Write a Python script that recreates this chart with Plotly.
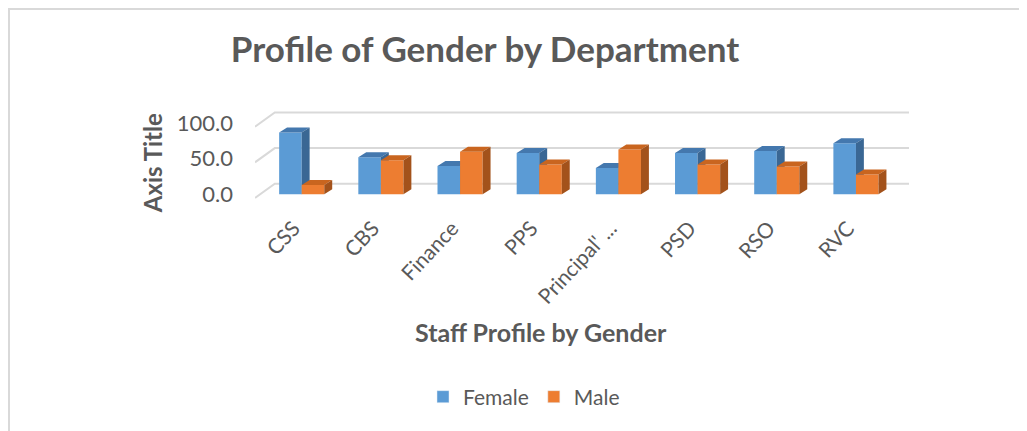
import plotly.graph_objects as go

departments = ["CSS", "CBS", "Finance", "PPS", "Principal' ...", "PSD", "RSO", "RVC"]
female = [87, 52, 40, 58, 37, 58, 61, 72]
male = [13, 48, 60, 42, 63, 42, 39, 28]
y_ticks = [0, 50, 100]

FONT = "Lato"
GREY = "#595959"

# pseudo-3D geometry (data units)
HALF = 0.285      # front width of one bar
DX, DY = 0.10, 7  # bar depth offset
WALL_DX, WALL_DY = 0.25, 15
X_RANGE = [-0.59, 7.67]
Y_RANGE = [-8, 120]

# the page body adds an 8px margin, so the figure is drawn 8px smaller
# and every target pixel position is shifted by OFF
OFF = 8
W, H = 1027 - OFF, 431 - OFF
PL, PR, PT, PB = 255 - OFF, 909 - OFF, 108.8 - OFF, 199.7 - OFF


def px(x):
    return (x - OFF - PL) / (PR - PL)


def py(y):
    return (PB - (y - OFF)) / (PB - PT)


def faces(vals, x_from):
    front_x, front_y, top_x, top_y, side_x, side_y = [], [], [], [], [], []
    for i, v in enumerate(vals):
        x0 = i + x_from
        x1 = x0 + HALF
        front_x += [x0, x1, x1, x0, x0, None]
        front_y += [0, 0, v, v, 0, None]
        top_x += [x0, x0 + DX, x1 + DX, x1, x0, None]
        top_y += [v, v + DY, v + DY, v, v, None]
        side_x += [x1, x1 + DX, x1 + DX, x1, x1, None]
        side_y += [0, DY, v + DY, v, 0, None]
    return (front_x, front_y), (top_x, top_y), (side_x, side_y)


fig = go.Figure()

# back wall gridlines
gx, gy = [], []
for t in y_ticks:
    gx += [X_RANGE[0], X_RANGE[0] + WALL_DX, X_RANGE[1], None]
    gy += [t - 5, t + WALL_DY, t + WALL_DY, None]
fig.add_trace(go.Scatter(x=gx, y=gy, mode="lines", line=dict(color="#D9D9D9", width=2),
                         hoverinfo="skip", showlegend=False))

series = [
    ("Female", female, -HALF, ["#5B9BD5", "#4478AE", "#3A6794"]),
    ("Male", male, 0.0, ["#ED7D31", "#C9651F", "#A3521B"]),
]

for name, vals, x_from, cols in series:
    front, top, side = faces(vals, x_from)
    for (xs, ys), c in zip([front, top, side], cols):
        fig.add_trace(go.Scatter(x=xs, y=ys, mode="lines", fill="toself", fillcolor=c,
                                 line=dict(width=0, color=c), hoverinfo="skip", showlegend=False))

# legend entries
for name, vals, x_from, cols in series:
    fig.add_trace(go.Bar(x=[None], y=[None], name=name, marker_color=cols[0]))

fig.update_layout(
    width=W, height=H,
    plot_bgcolor="white", paper_bgcolor="white",
    margin=dict(l=PL, r=W - PR, t=PT, b=H - PB, autoexpand=False),
    font=dict(family=FONT, color=GREY),
    title=dict(text="<b>Profile of Gender by Department</b>", font=dict(size=35, color=GREY),
               x=(485 - OFF) / W, xanchor="center", y=1 - (50 - OFF) / H, yanchor="middle",
               xref="container", yref="container"),
    xaxis=dict(range=X_RANGE, tickmode="array", tickvals=list(range(len(departments))),
               ticktext=departments, tickangle=-47, showgrid=False, zeroline=False,
               showline=False, tickfont=dict(size=21, color=GREY), ticklabelshift=-8,
               ticklabelstandoff=11),
    yaxis=dict(range=Y_RANGE, tickmode="array", tickvals=y_ticks,
               ticktext=[f"{t:.1f}" for t in y_ticks], showgrid=False, zeroline=False,
               showline=False, tickfont=dict(size=22, color=GREY), ticklabelstandoff=21),
    legend=dict(orientation="h", x=(524 - OFF) / W, xanchor="center", y=1 - (397 - OFF) / H,
                yanchor="middle", xref="container", yref="container",
                font=dict(size=21, color=GREY)),
    annotations=[
        dict(text="<b>Axis Title</b>", x=px(152), y=py(163), xref="paper", yref="paper",
             xanchor="center", yanchor="middle",
             textangle=-90, showarrow=False, font=dict(size=24, color=GREY)),
        dict(text="<b>Staff Profile by Gender</b>", x=px(541), y=py(332), xref="paper", yref="paper",
             xanchor="center", yanchor="middle",
             showarrow=False, font=dict(size=25, color=GREY)),
    ],
    shapes=[
        dict(type="line", xref="paper", yref="paper", x0=px(8), y0=py(9), x1=px(1027), y1=py(9),
             line=dict(color="#D9D9D9", width=2)),
        dict(type="line", xref="paper", yref="paper", x0=px(9), y0=py(8), x1=px(9), y1=py(431),
             line=dict(color="#D9D9D9", width=2)),
    ],
)

fig.write_html("out.html")
